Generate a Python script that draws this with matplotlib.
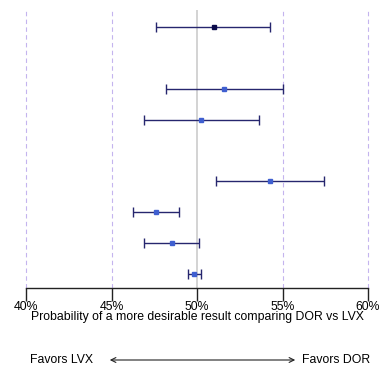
import matplotlib
matplotlib.use("Agg")
import matplotlib.pyplot as plt
import numpy as np

plt.rcParams['font.family'] = ['Liberation Sans', 'DejaVu Sans']

# Data (percent)
slots = [0, 2, 3, 5, 6, 7, 8]
estimates = [51.0, 51.6, 50.25, 54.25, 47.62, 48.52, 49.84]
lower = [47.58, 48.2, 46.92, 51.13, 46.24, 46.92, 49.47]
upper = [54.29, 55.0, 53.63, 57.43, 48.95, 50.12, 50.25]
marker_colors = ['#0a0a4a', '#3f5fd0', '#3f5fd0', '#3f5fd0', '#3f5fd0', '#3f5fd0', '#3f5fd0']
xticks = [40, 45, 50, 55, 60]
xticklabels = ['40%', '45%', '50%', '55%', '60%']

fig = plt.figure(figsize=(3.82, 3.70), dpi=100)
ax = fig.add_axes([26/382, 1 - 288/370, (368 - 26)/382, (288 - 10)/370])
ax.set_xlim(40, 60)
ax.set_ylim(8.45, -0.55)

for xv in [40, 45, 55, 60]:
    ax.axvline(xv, color='#c4b4ee', lw=0.8, ls=(0, (4, 3)), zorder=1, clip_on=False)
ax.axvline(50, color='#cccccc', lw=1.2, zorder=1)

for s, e, lo, hi, mc in zip(slots, estimates, lower, upper, marker_colors):
    ax.errorbar(e, s, xerr=[[e - lo], [hi - e]], fmt='none', ecolor='#26266e',
                elinewidth=1.0, capsize=3.5, capthick=1.0, zorder=2)
    ax.plot(e, s, marker='s', ms=3.5, color=mc, mec=mc, ls='none', zorder=3)

for sp in ['top', 'right', 'left']:
    ax.spines[sp].set_visible(False)
ax.spines['bottom'].set_color('#222222')
ax.spines['bottom'].set_linewidth(1.0)
ax.set_yticks([])
ax.set_xticks(xticks)
ax.set_xticklabels(xticklabels, fontsize=8.8)
ax.tick_params(axis='x', length=9, width=1.0, color='#222222', pad=0)
ax.set_xlabel('Probability of a more desirable result comparing DOR vs LVX', fontsize=8.8, labelpad=-1)

fig.text(30/382, 1 - 360/370, 'Favors LVX', fontsize=8.8, va='center', ha='left')
fig.text(302/382, 1 - 360/370, 'Favors DOR', fontsize=8.8, va='center', ha='left')
fig.add_artist(matplotlib.patches.FancyArrowPatch((107/382, 1 - 360/370), (298/382, 1 - 360/370),
               transform=fig.transFigure, arrowstyle='<->,head_length=0.5,head_width=0.25',
               mutation_scale=7, lw=0.8, color='#222222'))

fig.savefig('out.png', dpi=100, facecolor='white')
